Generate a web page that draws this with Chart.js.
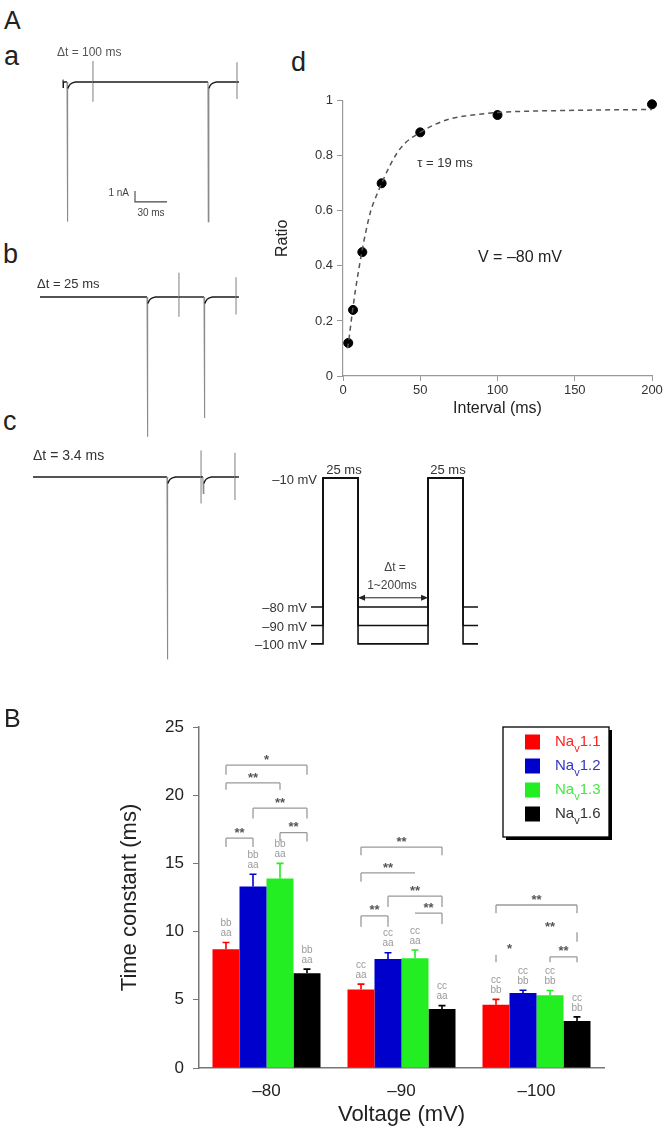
<!DOCTYPE html>
<html>
<head>
<meta charset="utf-8">
<script src="https://cdn.jsdelivr.net/npm/chart.js@4.4.1/dist/chart.umd.min.js"></script>
<style>
  body { margin: 0; background: #fff; }
  #fig { position: relative; width: 670px; height: 1134px; overflow: hidden; background: #fff;
         font-family: "Liberation Sans", Arial, sans-serif; color: #222; }
  #fig canvas { position: absolute; }
  .t { position: absolute; white-space: nowrap; line-height: 1; }
</style>
</head>
<body>
<div id="fig">
  <canvas id="traceA" width="215" height="190" style="left:30px;top:45px"></canvas>
  <canvas id="traceB" width="215" height="185" style="left:30px;top:260px"></canvas>
  <canvas id="traceC" width="215" height="230" style="left:30px;top:440px"></canvas>
  <canvas id="recovery" width="420" height="350" style="left:250px;top:80px"></canvas>
  <canvas id="protocol" width="250" height="230" style="left:240px;top:440px"></canvas>
  <canvas id="bars" width="670" height="444" style="left:0px;top:690px"></canvas>
</div>
<script>
// ---------- A a-c: currents (time in ms, current in nA, baseline = 0) ----------
const traceAStart = 31, traceAEnd = 195.9;
const traceASpikeTimes = [34.7, 166.8];
const traceASpikePeaks = [-12.7, -12.7];
const traceAArtifactTimes = [31.2, 59.0, 194.0];
const traceAArtifactHigh = [0.2, 1.9, 1.8];
const traceAArtifactLow = [-0.55, -1.8, -1.55];

const traceBStart = 9.4, traceBEnd = 195.9;
const traceBSpikeTimes = [109.7, 163.1];
const traceBSpikePeaks = [-12.7, -11.0];
const traceBArtifactTimes = [139.6, 193.1];
const traceBArtifactHigh = [2.2, 1.8];
const traceBArtifactLow = [-1.8, -1.6];

const traceCStart = 2.8, traceCEnd = 195.9;
const traceCSpikeTimes = [128.4, 162.1];
const traceCSpikePeaks = [-16.6, -1.5];
const traceCArtifactTimes = [160.3, 192.1];
const traceCArtifactHigh = [2.4, 2.2];
const traceCArtifactLow = [-2.4, -2.1];

// decay after each peak: ms after onset, nA
const tailTimes = [0.8, 1.6, 3, 5, 8];
const tailCurrents = [-0.6, -0.4, -0.2, -0.08, 0];

// ---------- A d: recovery ----------
const intervals = [3.4, 6.5, 12.5, 25, 50, 100, 200];
const ratios = [0.12, 0.24, 0.45, 0.70, 0.885, 0.948, 0.987];
const fitIntervals = [3, 4, 6, 8, 10, 12.5, 15, 18, 22, 25, 30, 35, 40, 50, 60, 70, 80, 100, 150, 200];
const fitRatios = [0.10, 0.14, 0.23, 0.31, 0.38, 0.46, 0.53, 0.60, 0.66, 0.70, 0.76, 0.81, 0.845, 0.885, 0.915, 0.935, 0.945, 0.957, 0.965, 0.968];
const ratioTicks = [0, 0.2, 0.4, 0.6, 0.8, 1];
const intervalTicks = [0, 50, 100, 150, 200];

// ---------- A protocol (mV, ms) ----------
const holdingLevels = [-80, -90, -100];
const stepLevel = -10;
const protocolTimes = [0, 8.6, 33.6, 83.6, 108.6, 119.3];
const gapArrowLevel = -75;

// ---------- B: time constants ----------
const voltages = ['\u201380', '\u201390', '\u2013100'];
const channels = ['1.1', '1.2', '1.3', '1.6'];
const nav11 = [8.7, 5.75, 4.63];
const nav12 = [13.3, 8.0, 5.5];
const nav13 = [13.9, 8.05, 5.33];
const nav16 = [6.95, 4.32, 3.45];
const nav11Err = [0.5, 0.4, 0.4];
const nav12Err = [0.9, 0.45, 0.2];
const nav13Err = [1.1, 0.6, 0.35];
const nav16Err = [0.3, 0.25, 0.3];
const lettersUpper = ['bb', 'cc', 'cc'];
const lettersLower = ['aa', 'aa', 'bb'];
// [voltage, from channel, to channel, level, left leg end, right leg end, draw bar, label]
const brackets = [
  [0, 0, 3, 22.2, 21.5, 21.5, 1, '*'],
  [0, 0, 2, 20.9, 20.4, 20.4, 1, '**'],
  [0, 1, 3, 19.05, 18.3, 18.3, 1, '**'],
  [0, 2, 3, 17.25, 16.6, 16.6, 1, '**'],
  [0, 0, 1, 16.85, 16.2, 16.2, 1, '**'],
  [1, 0, 3, 16.2, 15.6, 15.6, 1, '**'],
  [1, 0, 2, 14.3, 13.65, null, 1, '**'],
  [1, 1, 3, 12.6, 11.8, 11.8, 1, '**'],
  [1, 0, 1, 11.15, 10.35, 10.35, 1, '**'],
  [1, 2, 3, 11.35, null, 10.55, 1, '**'],
  [2, 0, 3, 11.95, 11.35, 11.35, 1, '**'],
  [2, 1, 3, 9.95, null, 9.25, 0, '**'],
  [2, 0, 1, 8.3, 7.75, null, 0, '*'],
  [2, 2, 3, 8.15, 7.75, 7.75, 1, '**']
];

const barColors = ['#ff0000', '#0000cc', '#22ee22', '#000000'];
const legendColors = ['#ff2020', '#3434c4', '#44e844', '#333333'];

Chart.defaults.font.family = '"Liberation Sans", Arial, sans-serif';
Chart.defaults.color = '#222';

const fig = document.getElementById('fig');
function addText(txt, x, y, size, align, color) {
  const d = document.createElement('div');
  d.className = 't';
  d.textContent = txt;
  d.style.left = x + 'px';
  d.style.top = y + 'px';
  d.style.fontSize = size + 'px';
  d.style.color = color || '#222';
  const tx = align === 'r' ? '-100%' : align === 'l' ? '0' : '-50%';
  d.style.transform = 'translate(' + tx + ',-50%)';
  fig.appendChild(d);
}

// ---------- traces ----------
const pxPerMs = 1.067, pxPerNA = 11;

function buildTrace(start, end, spikeT, spikeI, artT, artHi, artLo) {
  const ev = [];
  spikeT.forEach((t, k) => ev.push({ t: t, s: true, k: k }));
  artT.forEach((t, k) => ev.push({ t: t, s: false, k: k }));
  ev.sort((p, q) => p.t - q.t);
  const pts = [{ x: start, y: 0 }];
  ev.forEach(e => {
    if (e.s) {
      pts.push({ x: e.t, y: 0 }, { x: e.t + 0.3, y: spikeI[e.k] });
      tailTimes.forEach((d, j) => pts.push({ x: e.t + d, y: tailCurrents[j] }));
    } else {
      pts.push({ x: e.t, y: 0 }, { x: e.t, y: artHi[e.k] }, { x: e.t, y: artLo[e.k] }, { x: e.t, y: 0 });
    }
  });
  pts.push({ x: end, y: 0 });
  return pts;
}

function traceChart(id, pts, top, base, height, extra) {
  const canvas = document.getElementById(id);
  const datasets = [{
    data: pts,
    borderColor: '#1a1a1a',
    borderWidth: 1.4,
    pointRadius: 0,
    segment: {
      borderColor: c => Math.abs(c.p1.y - c.p0.y) > 8 ? '#8a8a8a' : undefined,
      borderWidth: c => Math.abs(c.p1.y - c.p0.y) > 8 ? 1.1 : undefined
    }
  }].concat(extra || []);
  new Chart(canvas, {
    type: 'line',
    data: { datasets: datasets },
    options: {
      responsive: false, animation: false,
      layout: { padding: 0 },
      plugins: { legend: { display: false }, tooltip: { enabled: false } },
      scales: {
        x: { type: 'linear', display: false, min: 0, max: canvas.width / pxPerMs },
        y: { display: false, max: (base - top) / pxPerNA, min: -(top + height - base) / pxPerNA }
      }
    }
  });
}

traceChart('traceA',
  buildTrace(traceAStart, traceAEnd, traceASpikeTimes, traceASpikePeaks, traceAArtifactTimes, traceAArtifactHigh, traceAArtifactLow),
  45, 82, 190,
  [{ data: [{ x: 98.4, y: -9.9 }, { x: 98.4, y: -10.9 }, { x: 128.4, y: -10.9 }], borderColor: '#444', borderWidth: 1.1, pointRadius: 0 }]);
traceChart('traceB',
  buildTrace(traceBStart, traceBEnd, traceBSpikeTimes, traceBSpikePeaks, traceBArtifactTimes, traceBArtifactHigh, traceBArtifactLow),
  260, 297, 185);
traceChart('traceC',
  buildTrace(traceCStart, traceCEnd, traceCSpikeTimes, traceCSpikePeaks, traceCArtifactTimes, traceCArtifactHigh, traceCArtifactLow),
  440, 477, 230);

// ---------- recovery curve ----------
new Chart(document.getElementById('recovery'), {
  type: 'scatter',
  data: {
    datasets: [
      {
        type: 'line',
        data: fitIntervals.map((t, i) => ({ x: t, y: fitRatios[i] })),
        borderColor: '#555', borderWidth: 1.5, borderDash: [5, 4],
        pointRadius: 0, tension: 0.4, cubicInterpolationMode: 'monotone', clip: false
      },
      {
        data: intervals.map((t, i) => ({ x: t, y: ratios[i] })),
        backgroundColor: '#000', borderColor: '#000', pointRadius: 4.5, clip: false
      }
    ]
  },
  options: {
    responsive: false, animation: false,
    layout: { padding: { left: 19.4, top: 20.7, right: 18, bottom: 7.4 } },
    plugins: { legend: { display: false }, tooltip: { enabled: false } },
    scales: {
      x: {
        type: 'linear', min: 0, max: 200,
        afterBuildTicks: s => { s.ticks = intervalTicks.map(v => ({ value: v })); },
        afterFit: s => { s.height = 46.6; },
        grid: { drawOnChartArea: false, tickLength: 5, color: '#999' },
        border: { color: '#999', width: 1.2 },
        ticks: { font: { size: 13 }, color: '#333', padding: 2, maxRotation: 0 },
        title: { display: true, text: 'Interval (ms)', font: { size: 16 }, color: '#222', padding: { top: 4, bottom: 4 } }
      },
      y: {
        min: 0, max: 1,
        afterBuildTicks: s => { s.ticks = ratioTicks.map(v => ({ value: v })); },
        afterFit: s => { s.width = 73.6; },
        grid: { drawOnChartArea: false, tickLength: 6, color: '#999' },
        border: { color: '#999', width: 1.2 },
        ticks: { font: { size: 13 }, color: '#333', padding: 4, callback: v => String(v) },
        title: { display: true, text: 'Ratio', font: { size: 16 }, color: '#222', padding: { top: 4, bottom: 4 } }
      }
    }
  }
});

// ---------- protocol ----------
const gapArrow = {
  id: 'gapArrow',
  afterDatasetsDraw(chart) {
    const { ctx, scales: { x, y } } = chart;
    const x1 = x.getPixelForValue(protocolTimes[2]), x2 = x.getPixelForValue(protocolTimes[3]);
    const yy = y.getPixelForValue(gapArrowLevel);
    ctx.save();
    ctx.strokeStyle = '#222'; ctx.fillStyle = '#222'; ctx.lineWidth = 1;
    ctx.beginPath(); ctx.moveTo(x1 + 2, yy); ctx.lineTo(x2 - 2, yy); ctx.stroke();
    [[x1, 1], [x2, -1]].forEach(([px, d]) => {
      ctx.beginPath(); ctx.moveTo(px, yy); ctx.lineTo(px + 7 * d, yy - 3); ctx.lineTo(px + 7 * d, yy + 3); ctx.closePath(); ctx.fill();
    });
    ctx.restore();
  }
};
const pc = document.getElementById('protocol');
const pxPerMsP = 1.4, pxPerMV = 1.843, protoX0 = 71, protoY0 = 38;
new Chart(pc, {
  type: 'line',
  data: {
    datasets: holdingLevels.map(v => ({
      data: [
        { x: protocolTimes[0], y: v }, { x: protocolTimes[1], y: v }, { x: protocolTimes[1], y: stepLevel },
        { x: protocolTimes[2], y: stepLevel }, { x: protocolTimes[2], y: v }, { x: protocolTimes[3], y: v },
        { x: protocolTimes[3], y: stepLevel }, { x: protocolTimes[4], y: stepLevel }, { x: protocolTimes[4], y: v },
        { x: protocolTimes[5], y: v }
      ],
      borderColor: '#111', borderWidth: 1.6, pointRadius: 0
    }))
  },
  options: {
    responsive: false, animation: false,
    layout: { padding: 0 },
    plugins: { legend: { display: false }, tooltip: { enabled: false } },
    scales: {
      x: { type: 'linear', display: false, min: -protoX0 / pxPerMsP, max: (pc.width - protoX0) / pxPerMsP },
      y: { display: false, max: stepLevel + protoY0 / pxPerMV, min: stepLevel - (pc.height - protoY0) / pxPerMV }
    }
  },
  plugins: [gapArrow]
});

// ---------- B bars ----------
const barValues = [nav11, nav12, nav13, nav16];
const barErrors = [nav11Err, nav12Err, nav13Err, nav16Err];

const barDecor = {
  id: 'barDecor',
  afterDatasetsDraw(chart) {
    const { ctx, scales: { y } } = chart;
    ctx.save();
    // error bars and letters
    chart.data.datasets.forEach((ds, i) => {
      chart.getDatasetMeta(i).data.forEach((bar, j) => {
        const top = y.getPixelForValue(ds.data[j] + barErrors[i][j]);
        ctx.strokeStyle = barColors[i]; ctx.lineWidth = 1.6;
        ctx.beginPath();
        ctx.moveTo(bar.x, bar.y); ctx.lineTo(bar.x, top);
        ctx.moveTo(bar.x - 3.5, top); ctx.lineTo(bar.x + 3.5, top);
        ctx.stroke();
        ctx.fillStyle = '#9a9a9a';
        ctx.font = '10px "Liberation Sans", Arial, sans-serif';
        ctx.textAlign = 'center'; ctx.textBaseline = 'middle';
        ctx.fillText(lettersLower[j], bar.x, top - 9);
        ctx.fillText(lettersUpper[j], bar.x, top - 19);
      });
    });
    // significance brackets
    ctx.strokeStyle = '#9a9a9a'; ctx.lineWidth = 1.3;
    brackets.forEach(b => {
      const x1 = chart.getDatasetMeta(b[1]).data[b[0]].x;
      const x2 = chart.getDatasetMeta(b[2]).data[b[0]].x;
      const yy = y.getPixelForValue(b[3]);
      ctx.beginPath();
      if (b[6]) { ctx.moveTo(x1, yy); ctx.lineTo(x2, yy); }
      if (b[4] !== null) { ctx.moveTo(x1, yy); ctx.lineTo(x1, y.getPixelForValue(b[4])); }
      if (b[5] !== null) { ctx.moveTo(x2, yy); ctx.lineTo(x2, y.getPixelForValue(b[5])); }
      ctx.stroke();
      ctx.fillStyle = '#555';
      ctx.font = 'bold 13px "Liberation Sans", Arial, sans-serif';
      ctx.textAlign = 'center'; ctx.textBaseline = 'middle';
      ctx.fillText(b[7], (x1 + x2) / 2, yy - 5);
    });
    ctx.restore();
  },
  afterDraw(chart) {
    const ctx = chart.ctx;
    const bx = 503, by = 37, bw = 106, bh = 110;
    ctx.save();
    ctx.fillStyle = '#000';
    ctx.fillRect(bx + 3, by + 3, bw, bh);
    ctx.fillStyle = '#fff';
    ctx.fillRect(bx, by, bw, bh);
    ctx.strokeStyle = '#000'; ctx.lineWidth = 1.3;
    ctx.strokeRect(bx, by, bw, bh);
    channels.forEach((c, i) => {
      const cy = by + 15 + i * 24;
      ctx.fillStyle = barColors[i];
      ctx.fillRect(bx + 22, cy - 7.5, 15, 15);
      ctx.fillStyle = legendColors[i];
      ctx.textBaseline = 'middle'; ctx.textAlign = 'left';
      ctx.font = '15px "Liberation Sans", Arial, sans-serif';
      let tx = bx + 52;
      ctx.fillText('Na', tx, cy);
      tx += ctx.measureText('Na').width;
      ctx.font = '11px "Liberation Sans", Arial, sans-serif';
      ctx.fillText('v', tx, cy + 7);
      tx += ctx.measureText('v').width;
      ctx.font = '15px "Liberation Sans", Arial, sans-serif';
      ctx.fillText(c, tx, cy);
    });
    ctx.restore();
  }
};

new Chart(document.getElementById('bars'), {
  type: 'bar',
  data: {
    labels: voltages,
    datasets: barValues.map((v, i) => ({
      label: 'Nav' + channels[i], data: v, backgroundColor: barColors[i],
      categoryPercentage: 0.8, barPercentage: 1, borderWidth: 0
    }))
  },
  options: {
    responsive: false, animation: false,
    layout: { padding: { left: 113, right: 66, top: 37, bottom: 2 } },
    plugins: { legend: { display: false }, tooltip: { enabled: false } },
    scales: {
      x: {
        afterFit: s => { s.height = 64; },
        grid: { display: false, drawTicks: false },
        border: { color: '#777', width: 1.5 },
        ticks: { font: { size: 17 }, color: '#222', padding: 13 },
        title: { display: true, text: 'Voltage (mV)', font: { size: 22 }, color: '#222', padding: { top: 4, bottom: 4 } }
      },
      y: {
        min: 0, max: 25,
        ticks: { stepSize: 5, font: { size: 17 }, color: '#222', padding: 9 },
        afterFit: s => { s.width = 86; },
        grid: { drawOnChartArea: false, tickLength: 6, color: '#777' },
        border: { color: '#777', width: 1.5 },
        title: { display: true, text: 'Time constant (ms)', font: { size: 22 }, color: '#222', padding: { top: 4, bottom: 4 } }
      }
    }
  },
  plugins: [barDecor]
});

// ---------- free text ----------
addText('A', 4, 20, 25, 'l');
addText('a', 4, 56, 27, 'l');
addText('b', 3, 254, 27, 'l');
addText('c', 3, 421, 27, 'l');
addText('d', 291, 62, 27, 'l');
addText('B', 4, 718, 25, 'l');
addText('\u0394t = 100 ms', 57, 52, 12, 'l', '#555');
addText('1 nA', 129, 193, 10, 'r', '#444');
addText('30 ms', 151, 213, 10, 'c', '#444');
addText('\u0394t = 25 ms', 37, 283, 13, 'l', '#333');
addText('\u0394t = 3.4 ms', 33, 455, 14, 'l', '#333');
addText('\u03c4 = 19 ms', 445, 162, 13, 'c', '#333');
addText('V = \u201380 mV', 520, 257, 16, 'c', '#222');
addText('25 ms', 344, 469, 13, 'c', '#333');
addText('25 ms', 448, 469, 13, 'c', '#333');
addText('\u201310 mV', 317, 479, 13, 'r', '#333');
addText('\u201380 mV', 307, 607, 13, 'r', '#333');
addText('\u201390 mV', 307, 626, 13, 'r', '#333');
addText('\u2013100 mV', 307, 644, 13, 'r', '#333');
addText('\u0394t =', 395, 567, 12, 'c', '#444');
addText('1~200ms', 392, 585, 12, 'c', '#444');
</script>
</body>
</html>
